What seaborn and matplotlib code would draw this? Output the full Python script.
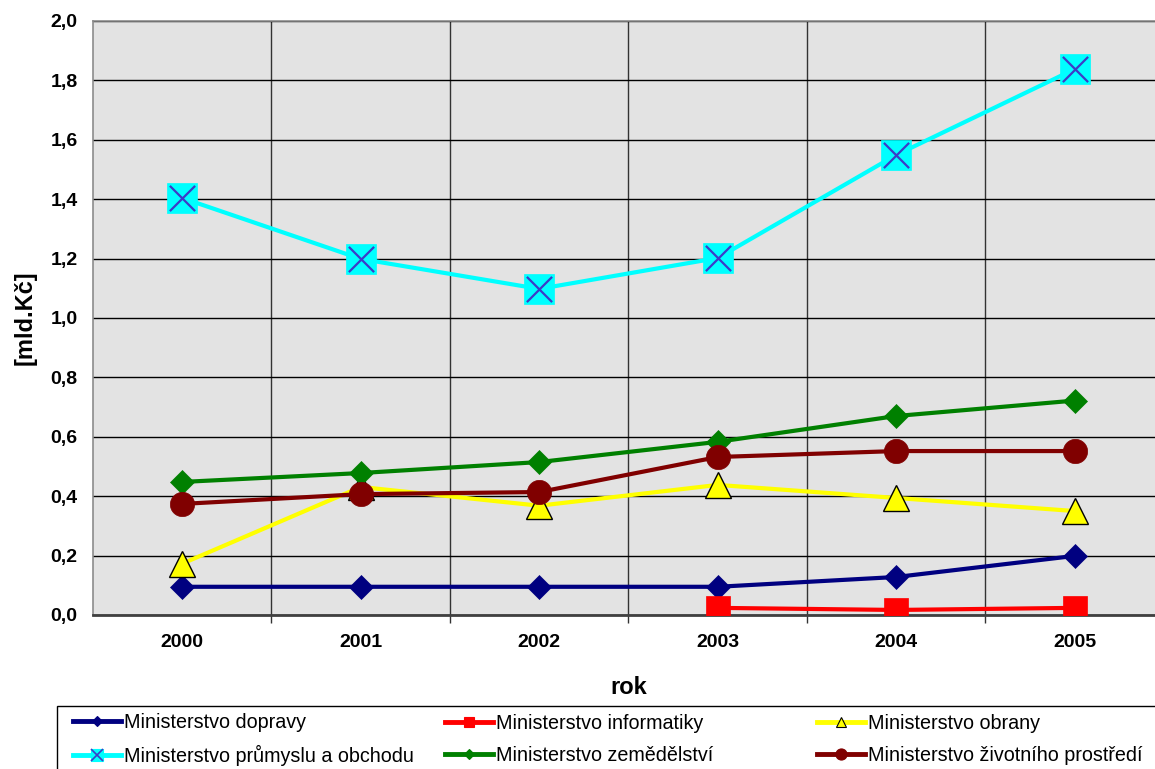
import numpy as np
import pandas as pd
import seaborn as sns
import matplotlib.pyplot as plt
from matplotlib.lines import Line2D
from matplotlib.patches import Rectangle
from matplotlib.ticker import FuncFormatter, MultipleLocator, FixedLocator

# data (mld. Kč)
years = [2000, 2001, 2002, 2003, 2004, 2005]
doprava = [0.095, 0.095, 0.095, 0.095, 0.128, 0.199]
informatiky = [np.nan, np.nan, np.nan, 0.024, 0.017, 0.024]
obrany = [0.173, 0.431, 0.368, 0.438, 0.394, 0.350]
prumyslu = [1.404, 1.199, 1.098, 1.202, 1.549, 1.838]
zemedelstvi = [0.448, 0.478, 0.515, 0.583, 0.670, 0.722]
zivotniho = [0.374, 0.407, 0.414, 0.532, 0.552, 0.552]

names = ['Ministerstvo dopravy', 'Ministerstvo informatiky', 'Ministerstvo obrany',
         'Ministerstvo průmyslu a obchodu', 'Ministerstvo zemědělství',
         'Ministerstvo životního prostředí']

W, H = 1155, 769


def build_frame():
    df = pd.DataFrame({'rok': years, names[0]: doprava, names[1]: informatiky,
                       names[2]: obrany, names[3]: prumyslu, names[4]: zemedelstvi,
                       names[5]: zivotniho})
    return df


def create_chart(df):
    plt.rcParams['font.family'] = ['Liberation Sans', 'DejaVu Sans']
    fig = plt.figure(figsize=(W / 100, H / 100), dpi=100)
    ax = fig.add_axes([93 / W, 154 / H, 1071 / W, 594 / H])
    ax.set_facecolor('#E3E3E3')

    # color, marker, markersize, marker edge color
    styles = [
        ('#000080', 'D', 12.7, '#000080'),
        ('#FF0000', 's', 17.5, '#FF0000'),
        ('#FFFF00', '^', 18.5, 'black'),
        ('#00FFFF', 's', 21.5, '#00FFFF'),
        ('#008000', 'D', 12.7, '#008000'),
        ('#800000', 'o', 17.5, '#800000'),
    ]
    for i, (name, st) in enumerate(zip(names, styles)):
        col, mk, ms, mec = st
        sns.lineplot(data=df, x='rok', y=name, ax=ax, color=col, lw=3,
                     marker=mk, markersize=ms, markeredgecolor=mec,
                     markeredgewidth=1.0 if mk == '^' else 0.5, zorder=3 + i)
        if name == names[3]:
            sns.scatterplot(data=df, x='rok', y=name, ax=ax, marker='x',
                            s=330, color='#3C3CC8', linewidth=1.6, zorder=3 + i)

    ax.set_xlim(1999.5, 2005.5)
    ax.set_ylim(0, 2.0)
    ax.yaxis.set_major_locator(MultipleLocator(0.2))
    ax.yaxis.set_major_formatter(FuncFormatter(lambda v, p: f'{v:.1f}'.replace('.', ',')))
    ax.xaxis.set_major_locator(FixedLocator(years))
    ax.xaxis.set_minor_locator(FixedLocator([y + 0.5 for y in years[:-1]]))
    ax.set_xticklabels([str(y) for y in years])

    ax.grid(axis='y', which='major', color='black', lw=1.0, zorder=1)
    ax.grid(axis='x', which='minor', color='#333333', lw=1.0, zorder=1)
    ax.set_axisbelow(True)

    ax.tick_params(axis='y', length=0, pad=11, labelsize=14)
    ax.tick_params(axis='x', which='major', length=0, pad=14, labelsize=14)
    ax.tick_params(axis='x', which='minor', length=6, width=1, color='#333333')
    for lab in ax.get_xticklabels() + ax.get_yticklabels():
        lab.set_fontweight('bold')

    for s in ['left', 'top', 'right']:
        ax.spines[s].set_color('#8C8C8C')
        ax.spines[s].set_linewidth(1.2)
    ax.spines['bottom'].set_color('#404040')
    ax.spines['bottom'].set_linewidth(2)

    ax.set_xlabel('rok', fontsize=17, fontweight='bold', labelpad=18)
    ax.set_ylabel('[mld.Kč]', fontsize=17, fontweight='bold', labelpad=10)

    # legend: three equal-width columns, filled row by row, in one frame
    leg_ms = [5, 7, 7, 9, 5, 8]
    handles = []
    for i, (col, mk, ms, mec) in enumerate(styles):
        h = Line2D([], [], color=col, lw=3.5, marker=mk, markersize=leg_ms[i],
                   markeredgecolor=mec, markeredgewidth=0.8)
        if i == 3:
            hx = Line2D([], [], color='#3C3CC8', lw=0, marker='x',
                        markersize=8, markeredgewidth=1.2)
            h = (h, hx)
        handles.append(h)
    col_x = [73, 445, 817]
    for c in range(3):
        idx = [c, c + 3]
        fig.legend([handles[k] for k in idx], [names[k] for k in idx],
                   loc='center left', bbox_to_anchor=(col_x[c] / W, 1 - 739.5 / H),
                   frameon=False, fontsize=14.2, handlelength=2.45,
                   handletextpad=0.15, labelspacing=0.62, borderpad=0,
                   borderaxespad=0)
    fig.add_artist(Rectangle((57 / W, -20 / H), 1130 / W, 83 / H,
                             transform=fig.transFigure, fill=False,
                             edgecolor='black', lw=1.0, clip_on=False))
    return fig


def main():
    df = build_frame()
    fig = create_chart(df)
    fig.savefig('out.png', dpi=100)


if __name__ == "__main__":
    main()
